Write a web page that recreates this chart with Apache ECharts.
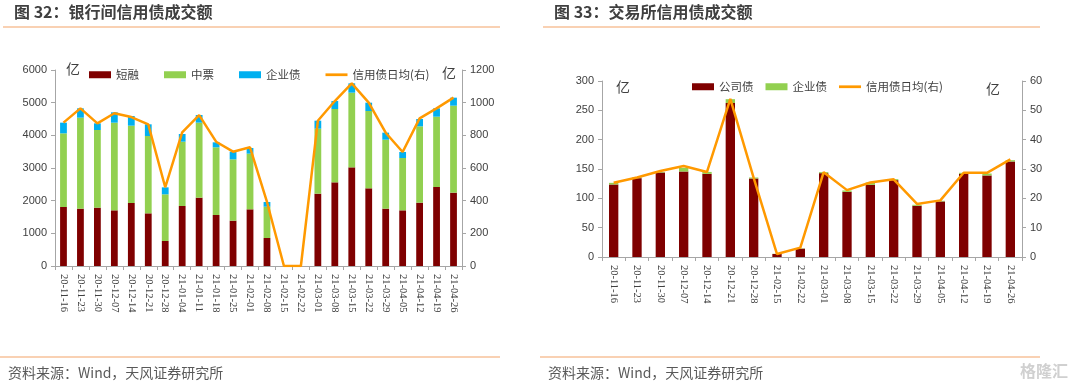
<!DOCTYPE html>
<html><head><meta charset="utf-8">
<script src="https://cdn.jsdelivr.net/npm/echarts@6/dist/echarts.min.js"></script>
<style>
html,body{margin:0;padding:0;background:#fff;}
#wrap{position:relative;width:1080px;height:387px;}
#c1{position:absolute;left:0;top:0;width:540px;height:387px;}
#c2{position:absolute;left:540px;top:0;width:540px;height:387px;}
</style></head>
<body><div id="wrap"><div id="c1"></div><div id="c2"></div></div>
<script>
// ---- Chart 32 data (银行间) ----
const datesL = ['20-11-16','20-11-23','20-11-30','20-12-07','20-12-14','20-12-21','20-12-28','21-01-04','21-01-11','21-01-18','21-01-25','21-02-01','21-02-08','21-02-15','21-02-22','21-03-01','21-03-08','21-03-15','21-03-22','21-03-29','21-04-05','21-04-12','21-04-19','21-04-26'];
const duanrong = [1806,1755,1786,1704,1929,1612,765,1837,2092,1561,1388,1735,857,0,0,2214,2561,3020,2378,1755,1704,1939,2418,2245];
const zhongpiao = [2255,2786,2377,2684,2367,2368,1429,1969,2296,2072,1877,1704,959,0,0,1990,2245,2286,2367,2112,1602,2337,2153,2663];
const qiyezhaiL = [327,286,204,316,296,357,214,235,234,153,235,173,143,0,0,245,245,286,255,215,184,224,256,245];
const dailyL = [878,965,873,935,912,867,482,818,924,761,700,727,392,0,0,889,1010,1118,1000,816,698,904,965,1031];
const leftTicksL = [0,1000,2000,3000,4000,5000,6000];
const rightTicksL = [0,200,400,600,800,1000,1200];

// ---- Chart 33 data (交易所) ----
const datesR = ['20-11-16','20-11-23','20-11-30','20-12-07','20-12-14','20-12-21','20-12-28','21-02-15','21-02-22','21-03-01','21-03-08','21-03-15','21-03-22','21-03-29','21-04-05','21-04-12','21-04-19','21-04-26'];
const gongsizhai = [123.6,134.4,144,145.7,141.7,262.5,133.8,5.1,14.2,142.9,111,123,131,87.3,94.7,141.8,139,162.8];
const qiyezhaiR = [2.8,1.6,1,6.3,3.3,6.5,1.7,0.4,0.5,1.7,2.4,4,1.7,1.7,1.1,1.7,3.3,2.2];
const dailyR = [25.3,27.1,29.3,31,29,53.9,27,1,3.2,28.9,22.8,25.4,26.5,18.1,19.3,28.7,28.7,33.3];
const leftTicksR = [0,50,100,150,200,250,300];
const rightTicksR = [0,10,20,30,40,50,60];

const DARK='#7f0000', GREEN='#92d050', BLUE='#00b0f0', ORANGE='#ff9900', AX='#a6a6a6', TXT='#404040';
const FONT='"Noto Sans CJK SC","Liberation Sans",sans-serif';
const LINEICON='path://M0,0 L24,0 L24,3 L0,3 Z';

function frame(title){
  return [
    {type:'text',left:14,top:4,style:{text:title,font:'bold 16px '+FONT,fill:'#404040'}},
    {type:'line',shape:{x1:3,y1:27,x2:500,y2:27},style:{stroke:'#f4a468',lineWidth:1.2}},
    {type:'line',shape:{x1:0,y1:357,x2:500,y2:357},style:{stroke:'#f4a468',lineWidth:1.2}},
    {type:'text',left:8,top:366,style:{text:'资料来源：Wind，天风证券研究所',font:'14px '+FONT,fill:'#595959'}}
  ];
}
function yAxisCfg(ticks,pos,fontFam){
  return {type:'value',position:pos,min:ticks[0],max:ticks[ticks.length-1],interval:ticks[1]-ticks[0],
    axisLine:{show:true,lineStyle:{color:AX}},axisTick:{show:true,length:4,lineStyle:{color:AX}},
    splitLine:{show:false},axisLabel:{color:TXT,fontSize:11,fontFamily:fontFam,margin:8,formatter:function(v){return String(v);}}};
}
function xAxisCfg(cats){
  return {type:'category',data:cats,boundaryGap:true,
    axisLine:{lineStyle:{color:AX}},axisTick:{show:true,length:4,alignWithLabel:false,lineStyle:{color:AX}},
    axisLabel:{rotate:-90,interval:0,fontSize:10.5,color:TXT,fontFamily:'"Liberation Serif",serif',margin:8}};
}

const c1 = echarts.init(document.getElementById('c1'));
c1.setOption({
  animation:false,
  graphic:frame('图 32：银行间信用债成交额').concat([
    {type:'text',left:66,top:62,style:{text:'亿',font:'14px '+FONT,fill:TXT}},
    {type:'text',left:442,top:66,style:{text:'亿',font:'14px '+FONT,fill:TXT}}
  ]),
  legend:{left:84,top:64,itemGap:25,itemWidth:22,itemHeight:7,textStyle:{fontSize:11.5,color:TXT,fontFamily:FONT},
    data:[{name:'短融',icon:'rect'},{name:'中票',icon:'rect'},{name:'企业债',icon:'rect'},{name:'信用债日均(右)',icon:LINEICON,itemStyle:{color:ORANGE}}]},
  grid:{left:55,right:78,top:70,bottom:121},
  xAxis:xAxisCfg(datesL),
  yAxis:[yAxisCfg(leftTicksL,'left','"Liberation Sans",sans-serif'),yAxisCfg(rightTicksL,'right','"Liberation Sans",sans-serif')],
  series:[
    {name:'短融',type:'bar',stack:'a',data:duanrong,barWidth:'40%',itemStyle:{color:DARK}},
    {name:'中票',type:'bar',stack:'a',data:zhongpiao,barWidth:'40%',itemStyle:{color:GREEN}},
    {name:'企业债',type:'bar',stack:'a',data:qiyezhaiL,barWidth:'40%',itemStyle:{color:BLUE}},
    {name:'信用债日均(右)',type:'line',yAxisIndex:1,data:dailyL,symbol:'none',lineStyle:{color:ORANGE,width:2.5},itemStyle:{color:ORANGE}}
  ]
});

const c2 = echarts.init(document.getElementById('c2'));
c2.setOption({
  animation:false,
  graphic:frame('图 33：交易所信用债成交额').concat([
    {type:'text',left:76,top:80,style:{text:'亿',font:'14px '+FONT,fill:TXT}},
    {type:'text',left:446,top:82,style:{text:'亿',font:'14px '+FONT,fill:TXT}},
    {type:'text',left:480,top:363,style:{text:'格隆汇',font:'bold 16px '+FONT,fill:'#d0d0d0'}}
  ]),
  legend:{left:147,top:76,itemGap:12,itemWidth:22,itemHeight:7,textStyle:{fontSize:11.5,color:TXT,fontFamily:FONT},
    data:[{name:'公司债',icon:'rect'},{name:'企业债',icon:'rect'},{name:'信用债日均(右)',icon:LINEICON,itemStyle:{color:ORANGE}}]},
  grid:{left:62,right:58,top:81,bottom:130},
  xAxis:xAxisCfg(datesR),
  yAxis:[yAxisCfg(leftTicksR,'left','"Liberation Sans",sans-serif'),yAxisCfg(rightTicksR,'right','"Liberation Sans",sans-serif')],
  series:[
    {name:'公司债',type:'bar',stack:'a',data:gongsizhai,barWidth:'40%',itemStyle:{color:DARK}},
    {name:'企业债',type:'bar',stack:'a',data:qiyezhaiR,barWidth:'40%',itemStyle:{color:GREEN}},
    {name:'信用债日均(右)',type:'line',yAxisIndex:1,data:dailyR,symbol:'none',lineStyle:{color:ORANGE,width:2.5},itemStyle:{color:ORANGE}}
  ]
});
</script></body></html>
